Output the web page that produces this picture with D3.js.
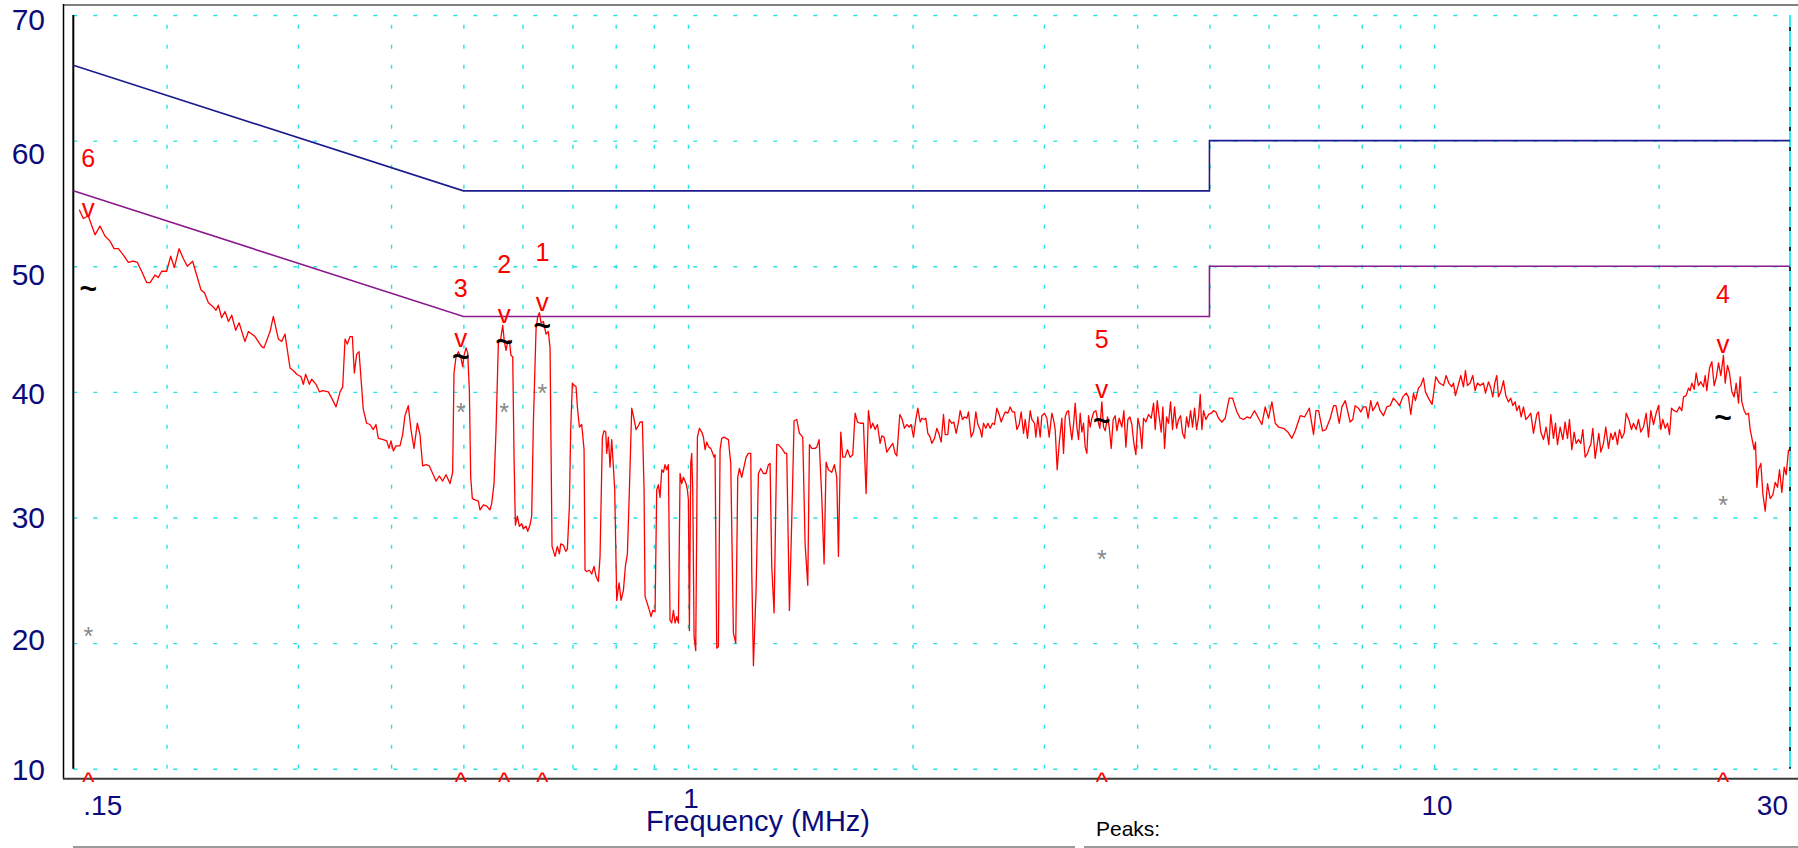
<!DOCTYPE html>
<html>
<head>
<meta charset="utf-8">
<script src="https://cdn.jsdelivr.net/npm/d3@7"></script>
<style>
  html, body { margin: 0; padding: 0; background: #fff; }
  svg { display: block; font-family: Arial, "Liberation Sans", sans-serif; }
</style>
</head>
<body>
<svg id="chart" width="1798" height="848"></svg>
<script>
// axis ticks
var levelTicks = [10, 20, 30, 40, 50, 60, 70];
var gridFreqs = [0.2, 0.3, 0.4, 0.5, 0.6, 0.7, 0.8, 0.9, 1, 2, 3, 4, 5, 6, 7, 8, 9, 10, 20];
var freqLabels = [0.15, 1, 10, 30];
var freqLabelText = ['.15', '1', '10', '30'];

// limit lines (MHz, dBuV)
var qpLimit = [[0.15, 66], [0.5, 56], [5, 56], [5, 60], [30, 60]];
var avLimit = [[0.15, 56], [0.5, 46], [5, 46], [5, 50], [30, 50]];

// peak markers
var peakNames = ['1', '2', '3', '4', '5', '6'];
var peakFreq  = [0.638, 0.567, 0.496, 24.4, 3.586, 0.1571];
var peakLevel = [46.45, 45.5, 43.6, 43.1, 39.5, 53.9];
var peakQP    = [45.25, 44.0, 42.8, 37.9, 37.7, 48.2];
var peakAV    = [40.3, 38.8, 38.8, 31.4, 27.1, 21.0];

var traceLow = [[0.1528,54.5],[0.1547,53.8],[0.1571,54.0],[0.1604,52.5],[0.1629,53.2],[0.1654,52.4],[0.1680,52.0],[0.1701,51.4],[0.1724,51.4],[0.1750,50.9],[0.1778,50.3],[0.1805,50.4],[0.1828,50.3],[0.1852,49.6],[0.1881,48.7],[0.1901,48.7],[0.1930,49.3],[0.1950,49.1],[0.1970,49.6],[0.2001,49.6],[0.2026,50.8],[0.2049,49.9],[0.2079,51.4],[0.2107,50.6],[0.2133,50.0],[0.2168,50.4],[0.2195,49.3],[0.2225,48.1],[0.2248,47.9],[0.2276,47.1],[0.2306,46.8],[0.2330,46.5],[0.2347,46.9],[0.2371,45.9],[0.2396,46.4],[0.2421,45.6],[0.2446,46.1],[0.2476,44.9],[0.2502,45.5],[0.2548,44.0],[0.2575,44.8],[0.2628,44.4],[0.2655,44.0],[0.2683,43.6],[0.2702,43.5],[0.2753,44.8],[0.2781,46.0],[0.2825,44.2],[0.2854,44.0],[0.2883,44.6],[0.2928,41.9],[0.2958,41.7],[0.2989,41.4],[0.3029,41.2],[0.3051,40.6],[0.3073,41.4],[0.3108,40.6],[0.3131,41.0],[0.3173,40.6],[0.3206,40.0],[0.3239,40.1],[0.3296,40.0],[0.3330,39.5],[0.3375,38.8],[0.3417,40.0],[0.3445,40.4],[0.3470,44.2],[0.3495,43.8],[0.3524,44.4],[0.3549,44.4],[0.3571,41.5],[0.3597,43.0],[0.3623,43.2],[0.3671,38.6],[0.3709,37.5],[0.3748,37.4],[0.3786,37.0],[0.3818,37.4],[0.3845,36.3],[0.3905,36.2],[0.3946,36.1],[0.3974,35.5],[0.3999,36.1],[0.4028,35.3],[0.4061,35.7],[0.4111,35.7],[0.4145,36.6],[0.4175,38.1],[0.4218,38.9],[0.4253,37.0],[0.4293,35.5],[0.4337,37.5],[0.4373,36.6],[0.4409,34.1],[0.4455,34.2],[0.4501,34.1],[0.4548,33.5],[0.4595,32.9],[0.4642,33.3],[0.4690,32.9],[0.4739,33.4],[0.4798,32.7]];

var traceMid = [[0.4837,33.6],[0.4857,41.5],[0.4888,42.8],[0.4923,43.2],[0.4958,42.8],[0.4989,42.0],[0.5010,42.9],[0.5041,43.5],[0.5067,43.1],[0.5093,40.1],[0.5114,33.2],[0.5140,31.5],[0.5183,31.4],[0.5236,31.3],[0.5263,30.6],[0.5318,31.0],[0.5373,30.9],[0.5428,30.6],[0.5456,31.1],[0.5496,32.7],[0.5530,37.0],[0.5570,43.9],[0.5610,44.2],[0.5645,45.3],[0.5674,44.0],[0.5703,43.3],[0.5733,44.0],[0.5762,44.1],[0.5792,42.9],[0.5822,42.8],[0.5846,34.8],[0.5870,29.4],[0.5906,30.1],[0.5943,29.3],[0.5986,29.5],[0.6017,29.1],[0.6066,29.3],[0.6098,28.9],[0.6142,29.4],[0.6173,30.1],[0.6205,37.5],[0.6257,45.0],[0.6289,46.0],[0.6321,46.3],[0.6354,45.5],[0.6400,45.6],[0.6453,44.6],[0.6499,44.8],[0.6533,43.5],[0.6573,27.7],[0.6635,26.9],[0.6682,27.7],[0.6724,27.1],[0.6752,27.9],[0.6807,27.8],[0.6857,27.3],[0.6892,27.5],[0.6935,30.9],[0.6963,37.0],[0.6999,40.7],[0.7043,40.5],[0.7079,40.4],[0.7108,38.8],[0.7152,37.2],[0.7204,37.4],[0.7256,35.4],[0.7278,25.8],[0.7316,25.7],[0.7376,25.8],[0.7430,25.5],[0.7483,26.1],[0.7530,25.3],[0.7584,24.9],[0.7623,26.9],[0.7678,36.4],[0.7718,36.9],[0.7758,36.8],[0.7782,35.1],[0.7822,36.4],[0.7862,34.0],[0.7903,36.2],[0.7944,34.0],[0.7976,32.2],[0.8026,23.4],[0.8084,24.8],[0.8134,23.4],[0.8193,24.2],[0.8243,26.1],[0.8294,27.1],[0.8346,32.2],[0.8406,38.7],[0.8449,38.1],[0.8519,37.0],[0.8581,37.3],[0.8625,37.6],[0.8687,37.6],[0.8732,32.2],[0.8759,23.7],[0.8804,23.3],[0.8877,22.6],[0.8923,22.1],[0.8969,22.6],[0.9034,22.5],[0.9080,32.2],[0.9127,32.6],[0.9174,31.6],[0.9222,33.8],[0.9269,33.6],[0.9317,34.2],[0.9365,33.8],[0.9413,34.2],[0.9462,21.8],[0.9511,21.6],[0.9560,22.6],[0.9609,21.6],[0.9659,22.1],[0.9709,21.6],[0.9759,33.5],[0.9809,32.7],[0.9860,33.2],[0.9941,32.7],[0.9982,32.2],[1.0013,31.4],[1.0044,21.0],[1.0085,34.3],[1.0116,35.1],[1.0148,32.2],[1.0190,20.5],[1.0242,19.4],[1.0295,36.4],[1.0359,37.1],[1.0434,36.8],[1.0488,36.4],[1.0542,35.4],[1.0596,36.0],[1.0662,35.6],[1.0728,35.5],[1.0794,35.1],[1.0839,34.8],[1.0872,35.0],[1.0928,19.6],[1.0984,19.7],[1.1041,35.4],[1.1098,36.3],[1.1178,36.4],[1.1329,36.2],[1.1411,34.3],[1.1505,20.8],[1.1588,20.0],[1.1660,33.2],[1.1720,33.9],[1.1805,33.2],[1.1964,34.8],[1.2050,35.1],[1.2138,35.1],[1.2175,25.8],[1.2238,18.2],[1.2339,24.2],[1.2428,33.5],[1.2518,33.9],[1.2621,33.5],[1.2726,33.5],[1.2818,34.2],[1.2884,34.3],[1.2950,26.1],[1.3044,22.4],[1.3152,35.8],[1.3220,35.8],[1.3356,35.5],[1.3494,35.1],[1.3564,35.1],[1.3676,22.6],[1.3775,29.8],[1.3875,37.7],[1.3989,37.8],[1.4105,36.7],[1.4251,36.4],[1.4354,27.9],[1.4473,24.6],[1.4548,35.8],[1.4653,35.5],[1.4804,35.5],[1.4881,35.6],[1.4988,36.2],[1.5112,31.6],[1.5221,26.3],[1.5315,34.4],[1.5426,33.8],[1.5586,33.6],[1.5715,34.2],[1.5828,33.2],[1.5910,26.9],[1.6025,36.8],[1.6124,34.8],[1.6240,34.8],[1.6358,35.4],[1.6493,34.8],[1.6629,35.0],[1.6750,38.3],[1.6871,37.6],[1.7010,37.5],[1.7186,37.5],[1.7328,31.9],[1.7453,38.5],[1.7580,37.1],[1.7688,37.5],[1.7816,37.0],[1.7945,37.4],[1.8093,35.9],[1.8187,36.5],[1.8318,36.4],[1.8470,35.2],[1.8661,35.6],[1.8815,35.9],[1.8951,35.1],[1.9049,34.9]];

var traceHigh = [[1.9229,38.2],[1.9348,37.9],[1.9508,37.1],[1.9649,37.4],[1.9791,37.2],[1.9914,37.4],[2.0058,36.4],[2.0203,37.8],[2.0328,38.7],[2.0475,37.6],[2.0580,37.9],[2.0750,37.8],[2.0836,37.9],[2.0965,36.7],[2.1116,36.4],[2.1225,35.9],[2.1401,36.3],[2.1555,37.1],[2.1711,36.6],[2.1846,36.0],[2.2003,38.2],[2.2117,36.6],[2.2300,36.6],[2.2392,37.8],[2.2577,37.5],[2.2717,37.6],[2.2881,36.7],[2.3046,37.6],[2.3165,38.5],[2.3333,37.8],[2.3477,38.0],[2.3647,37.9],[2.3769,38.4],[2.3965,36.4],[2.4139,36.8],[2.4313,38.4],[2.4464,37.4],[2.4640,37.0],[2.4767,36.4],[2.4895,37.5],[2.5075,37.1],[2.5231,37.5],[2.5413,37.1],[2.5597,37.5],[2.5756,37.4],[2.5942,38.7],[2.6129,38.2],[2.6291,37.6],[2.6399,37.9],[2.6618,38.4],[2.6838,38.3],[2.7032,38.8],[2.7227,38.4],[2.7396,38.4],[2.7594,37.0],[2.7793,37.4],[2.7965,38.4],[2.8167,36.7],[2.8313,37.8],[2.8517,36.3],[2.8753,38.5],[2.8901,37.8],[2.9141,37.5],[2.9260,36.4],[2.9441,38.0],[2.9655,36.4],[2.9808,38.1],[3.0054,38.3],[3.0271,37.9],[3.0490,36.4],[3.0742,38.3],[3.0901,37.8],[3.1060,37.0],[3.1252,33.8],[3.1446,35.9],[3.1706,37.9],[3.1869,35.1],[3.2034,38.0],[3.2199,38.4],[3.2365,38.5],[3.2532,37.2],[3.2700,36.2],[3.2869,37.4],[3.3038,39.1],[3.3209,37.2],[3.3380,36.2],[3.3552,38.3],[3.3725,36.8],[3.3899,37.5],[3.4074,35.6],[3.4249,35.1],[3.4426,38.1],[3.4603,37.2],[3.4782,37.9],[3.4997,38.4],[3.5214,38.5],[3.5432,37.7],[3.5652,37.1],[3.5872,39.2],[3.6057,37.2],[3.6244,36.9],[3.6506,38.0],[3.6694,37.2],[3.6921,35.5],[3.7150,37.8],[3.7380,38.1],[3.7573,36.9],[3.7844,37.9],[3.8157,37.2],[3.8393,38.5],[3.8631,35.6],[3.8871,37.8],[3.9111,38.0],[3.9354,37.4],[3.9597,35.9],[3.9843,35.0],[4.0089,37.9],[4.0338,37.2],[4.0587,35.5],[4.0797,37.9],[4.1091,37.6],[4.1431,38.2],[4.1774,37.9],[4.2076,39.1],[4.2292,37.0],[4.2555,39.3],[4.2818,38.0],[4.3083,36.8],[4.3306,38.8],[4.3529,35.5],[4.3798,38.0],[4.4070,37.5],[4.4343,39.2],[4.4617,37.0],[4.4894,38.8],[4.5172,37.1],[4.5452,37.8],[4.5733,38.1],[4.6016,36.7],[4.6301,36.3],[4.6588,38.0],[4.6876,37.2],[4.7167,38.5],[4.7459,37.2],[4.7753,38.7],[4.8048,37.0],[4.8346,38.0],[4.8595,39.8],[4.8846,37.0],[4.9098,38.5],[4.9453,37.8],[4.9862,38.2],[5.0274,38.3],[5.0637,38.5],[5.1003,38.4],[5.1425,37.9],[5.1952,37.6],[5.2494,37.9],[5.3146,39.5],[5.3693,39.5],[5.4419,38.4],[5.4982,37.9],[5.5551,37.8],[5.6125,38.0],[5.6706,37.9],[5.7469,38.5],[5.8178,37.9],[5.8780,37.4],[5.9388,38.8],[6.0002,37.9],[6.0629,39.2],[6.1249,37.5],[6.1882,37.2],[6.2852,37.1],[6.3690,36.8],[6.4490,36.3],[6.5156,36.9],[6.6169,38.1],[6.7060,38.0],[6.8033,38.7],[6.8949,36.6],[6.9448,38.5],[7.0022,38.5],[7.0888,36.9],[7.1626,37.0],[7.2590,37.9],[7.3341,38.9],[7.3872,38.9],[7.4636,37.5],[7.5253,38.8],[7.6031,39.3]];

var traceTop = [[7.718,37.6],[7.782,37.8],[7.838,38.9],[7.919,38.7],[7.976,38.4],[8.042,38.8],[8.108,38.8],[8.159,37.9],[8.226,39.3],[8.277,38.5],[8.337,38.8],[8.397,39.2],[8.467,38.5],[8.554,38.1],[8.643,38.8],[8.732,38.9],[8.822,39.5],[8.914,39.2],[8.987,38.9],[9.080,39.6],[9.174,39.9],[9.240,39.6],[9.307,38.2],[9.384,39.9],[9.442,39.3],[9.530,40.3],[9.599,40.5],[9.678,41.1],[9.738,40.0],[9.829,39.5],[9.941,39.0],[10.054,41.2],[10.168,40.7],[10.295,40.5],[10.380,41.3],[10.466,40.7],[10.563,40.4],[10.618,40.7],[10.683,39.7],[10.749,40.3],[10.861,41.3],[10.950,40.4],[11.018,41.7],[11.086,40.5],[11.178,40.7],[11.270,41.3],[11.352,40.1],[11.434,40.7],[11.529,40.5],[11.648,40.7],[11.720,39.9],[11.829,40.8],[11.914,40.3],[11.988,39.6],[12.062,40.7],[12.137,41.3],[12.200,39.6],[12.288,40.0],[12.390,40.9],[12.479,39.7],[12.582,39.2],[12.673,39.5],[12.752,38.9],[12.844,39.2],[12.910,38.5],[13.004,38.9],[13.084,38.0],[13.179,38.8],[13.274,37.8],[13.370,38.0],[13.480,38.3],[13.592,36.7],[13.732,38.2],[13.803,38.4],[13.903,36.8],[14.018,36.2],[14.134,37.2],[14.251,35.8],[14.339,38.2],[14.457,36.3],[14.547,37.5],[14.637,35.8],[14.758,37.2],[14.880,36.2],[14.987,37.6],[15.096,36.3],[15.189,37.8],[15.299,35.4],[15.410,36.8],[15.505,35.9],[15.617,36.2],[15.730,35.9],[15.827,37.0],[15.942,34.8],[16.057,35.1],[16.157,35.6],[16.223,35.8],[16.324,37.1],[16.442,34.7],[16.527,35.6],[16.629,36.7],[16.732,35.2],[16.870,35.9],[16.992,37.2],[17.133,35.5],[17.257,36.7],[17.363,36.2],[17.489,36.8],[17.615,35.8],[17.724,37.0],[17.852,36.3],[17.982,36.7],[18.093,38.3],[18.242,37.8],[18.393,37.0],[18.507,37.5],[18.659,37.0],[18.795,37.8],[18.931,36.8],[19.087,37.2],[19.245,38.3],[19.384,36.4],[19.524,38.5],[19.686,37.4],[19.849,38.3],[19.992,38.9],[20.136,37.0],[20.261,37.8],[20.408,37.1],[20.555,37.5],[20.683,36.6],[20.811,38.7],[20.983,38.5],[21.156,38.4],[21.331,38.8],[21.485,38.5],[21.595,39.6],[21.773,39.7],[21.932,40.3],[22.044,40.1],[22.159,40.7],[22.319,40.2],[22.455,41.5],[22.617,40.5],[22.780,40.8],[22.969,40.4],[23.090,41.3],[23.207,40.1],[23.401,41.9],[23.570,42.4],[23.741,40.5],[23.888,41.1],[24.060,42.3],[24.234,41.3],[24.432,42.9],[24.560,40.7],[24.738,42.1],[24.891,41.5],[25.071,40.0],[25.252,39.6],[25.409,40.7],[25.592,39.1],[25.724,41.2],[25.857,39.2],[26.044,38.5],[26.205,38.2],[26.394,38.3],[26.531,37.0],[26.695,36.2],[26.860,35.4],[26.971,36.0],[27.083,32.4],[27.222,33.8],[27.419,34.3],[27.589,31.9],[27.788,30.5],[27.989,32.7],[28.220,31.5],[28.454,31.8],[28.659,32.8],[28.867,32.4],[29.045,33.8],[29.255,32.0],[29.467,34.0],[29.649,33.4],[29.863,35.4]];

var trace = traceLow.concat(traceMid, traceHigh, traceTop);

var svg = d3.select('#chart');
var x = d3.scaleLog().domain([0.15, 30]).range([73.3, 1790]);
var y = d3.scaleLinear().domain([10, 70]).range([768.7, 15]);

var navy = '#0b0b7a';
var gridColor = '#22e4e4';

// outer frame
svg.append('line').attr('x1', 63).attr('x2', 1798).attr('y1', 5).attr('y2', 5)
  .attr('stroke', '#808080').attr('stroke-width', 2);
svg.append('line').attr('x1', 63.5).attr('x2', 63.5).attr('y1', 4).attr('y2', 779)
  .attr('stroke', '#000').attr('stroke-width', 1.5);
svg.append('line').attr('x1', 63).attr('x2', 1798).attr('y1', 778.7).attr('y2', 778.7)
  .attr('stroke', '#3a3a3a').attr('stroke-width', 2);
svg.append('line').attr('x1', 73).attr('x2', 1075).attr('y1', 847).attr('y2', 847)
  .attr('stroke', '#9a9a9a').attr('stroke-width', 2);
svg.append('line').attr('x1', 1084).attr('x2', 1798).attr('y1', 847).attr('y2', 847)
  .attr('stroke', '#9a9a9a').attr('stroke-width', 2);

// gridlines, drawn with d3 axes and stripped of labels/paths
var gridV = d3.axisBottom(x).tickValues(gridFreqs).tickFormat('')
  .tickSizeInner(-(y(10) - y(70))).tickSizeOuter(0);
var gv = svg.append('g').attr('class', 'grid')
  .attr('transform', 'translate(0,' + y(10) + ')').call(gridV);

var gridH = d3.axisLeft(y).tickValues(levelTicks).tickFormat('')
  .tickSizeInner(-(x(30) - x(0.15))).tickSizeOuter(0);
var gh = svg.append('g').attr('class', 'grid')
  .attr('transform', 'translate(' + x(0.15) + ',0)').call(gridH);

[gv, gh].forEach(function(g) {
  g.selectAll('path').remove();
  g.selectAll('text').remove();
  g.selectAll('line')
    .attr('stroke', gridColor)
    .attr('stroke-width', 1.4)
    .attr('stroke-dasharray', '4,16');
});

// plot edges
svg.append('line').attr('x1', x(0.15)).attr('x2', x(0.15)).attr('y1', y(70)).attr('y2', y(10))
  .attr('stroke', '#000').attr('stroke-width', 2);
svg.append('line').attr('x1', x(30)).attr('x2', x(30)).attr('y1', y(70)).attr('y2', y(10))
  .attr('stroke', '#2ef0f0').attr('stroke-width', 2);
svg.append('line').attr('x1', x(30)).attr('x2', x(30)).attr('y1', y(70) + 12).attr('y2', y(10))
  .attr('stroke', '#1a3a3a').attr('stroke-width', 2).attr('stroke-dasharray', '4,16');

// tick labels; the instrument prints a few of them slightly off their gridline
var labelNudge = { 70: 4, 60: 13, 50: 8, 40: 1, 30: 0, 20: -4, 10: 0 };
svg.append('g').selectAll('text').data(levelTicks).enter().append('text')
  .attr('x', 45).attr('y', function(d) { return y(d) + labelNudge[d]; })
  .attr('dy', '0.36em')
  .attr('text-anchor', 'end')
  .attr('font-size', 30).attr('fill', navy)
  .text(function(d) { return d; });

svg.append('g').selectAll('text').data(freqLabels).enter().append('text')
  .attr('x', function(d, i) {
    if (i === 0) return x(d) + 10;
    if (i === freqLabels.length - 1) return x(d) - 2;
    return x(d) + 3;
  })
  .attr('y', function(d) { return d === 1 ? 808 : 815; })
  .attr('text-anchor', function(d, i) {
    if (i === 0) return 'start';
    if (i === freqLabels.length - 1) return 'end';
    return 'middle';
  })
  .attr('font-size', 28).attr('fill', navy)
  .text(function(d, i) { return freqLabelText[i]; });

svg.append('text').attr('x', 758).attr('y', 831).attr('text-anchor', 'middle')
  .attr('font-size', 29).attr('fill', navy).text('Frequency (MHz)');
svg.append('text').attr('x', 1096).attr('y', 836)
  .attr('font-size', 21).attr('fill', '#000').text('Peaks:');

// limit lines
var line = d3.line()
  .x(function(d) { return x(d[0]); })
  .y(function(d) { return y(d[1]); });

svg.append('path').datum(qpLimit).attr('d', line)
  .attr('fill', 'none').attr('stroke', '#1c1c90').attr('stroke-width', 1.6);
svg.append('path').datum(avLimit).attr('d', line)
  .attr('fill', 'none').attr('stroke', '#8a1a8e').attr('stroke-width', 1.6);

// measured trace
svg.append('path').datum(trace).attr('d', line)
  .attr('fill', 'none').attr('stroke', '#ff0000').attr('stroke-width', 1.3)
  .attr('stroke-linejoin', 'round');

// peak markers: number, peak "v", quasi-peak "~", average "*", axis "^"
var mk = svg.append('g').attr('class', 'markers');
peakNames.forEach(function(name, i) {
  var px = x(peakFreq[i]);
  mk.append('text').attr('x', px).attr('y', y(peakLevel[i]) - 50)
    .attr('text-anchor', 'middle').attr('font-size', 25).attr('fill', '#ff0000').text(name);
  mk.append('text').attr('x', px).attr('y', y(peakLevel[i]))
    .attr('text-anchor', 'middle').attr('font-size', 26).attr('fill', '#ff0000').text('v');
  mk.append('text').attr('x', px).attr('y', y(peakQP[i]) + 10)
    .attr('text-anchor', 'middle').attr('font-size', 30).attr('font-weight', 'bold')
    .attr('fill', '#000').text('~');
  mk.append('text').attr('x', px).attr('y', y(peakAV[i]) + 14)
    .attr('text-anchor', 'middle').attr('font-size', 25).attr('fill', '#888').text('*');
  mk.append('text').attr('x', px).attr('y', 791)
    .attr('text-anchor', 'middle').attr('font-size', 26).attr('fill', '#ff0000').text('^');
});
</script>
</body>
</html>
